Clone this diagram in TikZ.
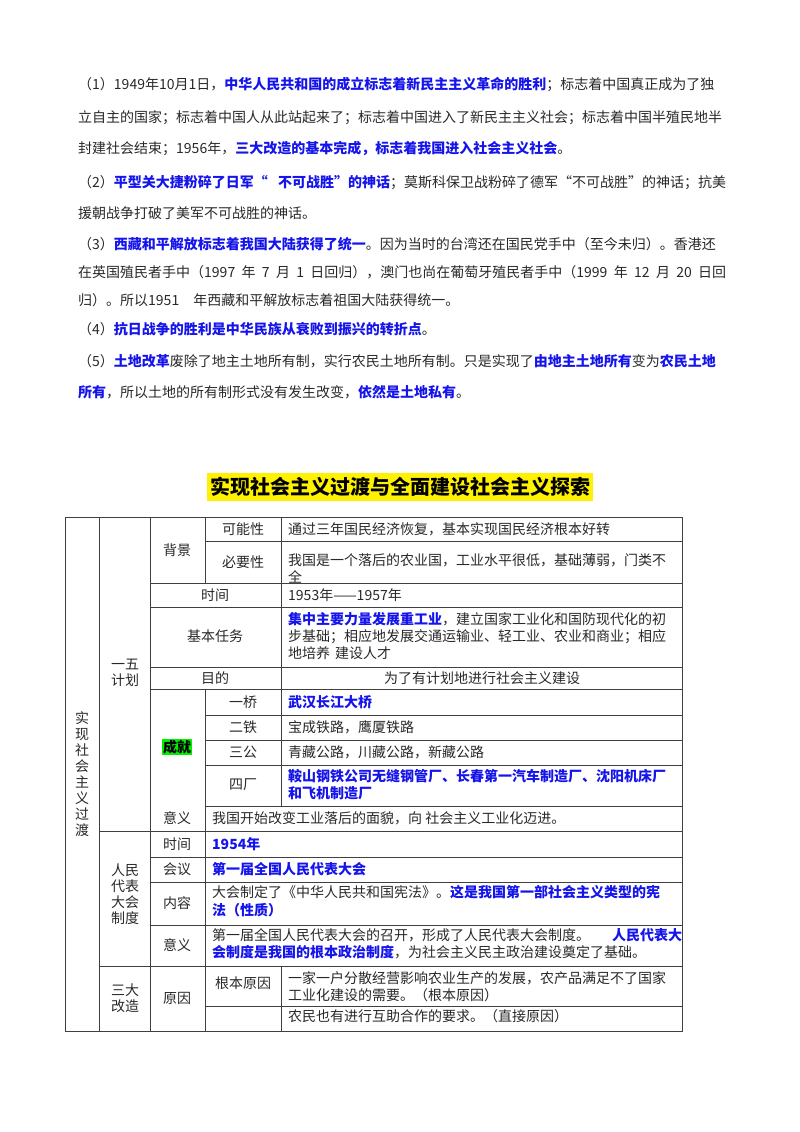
\documentclass[tikz,border=0pt]{standalone}
\usepackage{fontspec}
\setmainfont{Noto Sans CJK SC}
\XeTeXlinebreaklocale "zh"
\XeTeXlinebreakskip=0pt plus 2pt
\definecolor{bl}{RGB}{20,20,235}
\definecolor{txt}{RGB}{40,40,40}
\definecolor{hl}{RGB}{0,240,0}
\newcommand\bl[1]{{\bfseries\color{bl}#1}}
\newcommand\fl[1]{\makebox[648pt][s]{#1}}
\newcommand\fc[1]{\makebox[394pt][s]{#1}}
\newcommand\fd[1]{\makebox[470pt][s]{#1}}
\begin{document}
\begin{tikzpicture}[x=1pt,y=-1pt,
  t/.style={anchor=base west,inner sep=0,font=\fontsize{14}{16}\selectfont,text=txt},
  c/.style={anchor=center,inner sep=0,font=\fontsize{14}{16}\selectfont,text=txt,align=center},
  grid/.style={draw=black!75,line width=0.8pt}]
\useasboundingbox (0,0) rectangle (800,1132);
% paragraphs
\node[t] (p1) at (78,89) {\fl{（1）1949年10月1日，\bl{中华人民共和国的成立标志着新民主主义革命的胜利}；标志着中国真正成为了独}};
\node[t] (p2) at (78,122) {\fl{立自主的国家；标志着中国人从此站起来了；标志着中国进入了新民主主义社会；标志着中国半殖民地半}};
\node[t] (p3) at (78,153) {封建社会结束；1956年，\bl{三大改造的基本完成，标志着我国进入社会主义社会}。};
\node[t] (p4) at (78,187) {\fl{（2）\bl{平型关大捷粉碎了日军“ 不可战胜”的神话}；莫斯科保卫战粉碎了德军“不可战胜”的神话；抗美}};
\node[t] (p5) at (78,218) {援朝战争打破了美军不可战胜的神话。};
\node[t] (p6) at (78,249) {\fl{（3）\bl{西藏和平解放标志着我国大陆获得了统一}。因为当时的台湾还在国民党手中（至今未归）。香港还}};
\node[t] (p7) at (78,277) {\fl{在英国殖民者手中（1997 年 7 月 1 日回归），澳门也尚在葡萄牙殖民者手中（1999 年 12 月 20 日回}};
\node[t] (p8) at (78,305) {归）。所以1951\hspace{14pt}年西藏和平解放标志着祖国大陆获得统一。};
\node[t] (p9) at (78,334) {（4）\bl{抗日战争的胜利是中华民族从衰败到振兴的转折点}。};
\node[t] (p10) at (78,366) {\fl{（5）\bl{土地改革}废除了地主土地所有制，实行农民土地所有制。只是实现了\bl{由地主土地所有}变为\bl{农民土地}}};
\node[t] (p11) at (78,397) {\bl{所有}，所以土地的所有制形式没有发生改变，\bl{依然是土地私有}。};
% title
\node[anchor=center,fill=yellow,inner xsep=3pt,inner ysep=4pt,font=\fontsize{20}{22}\selectfont\bfseries] (title) at (400,487) {实现社会主义过渡与全面建设社会主义探索};
% table grid
\draw[grid] (65,517) rectangle (682,1031);
\draw[grid] (99,517) -- (99,1031);
\draw[grid] (150,517) -- (150,1031);
\draw[grid] (281,517) -- (281,689);
\draw[grid] (205,517) -- (205,583);
\draw[grid] (205,689) -- (205,831);
\draw[grid] (281,689) -- (281,806);
\draw[grid] (205,831) -- (205,1031);
\draw[grid] (281,966) -- (281,1031);
\draw[grid] (205,541) -- (682,541);
\foreach \yy in {583,607,667,689,831} \draw[grid] (150,\yy) -- (682,\yy);
\foreach \yy in {715,740,765,806} \draw[grid] (205,\yy) -- (682,\yy);
\draw[grid] (99,831) -- (682,831);
\foreach \yy in {857,882,925} \draw[grid] (150,\yy) -- (682,\yy);
\draw[grid] (99,966) -- (682,966);
\draw[grid] (205,1006) -- (682,1006);
% left labels
\node[c] (l1) at (82,774) {实\\现\\社\\会\\主\\义\\过\\渡};
\node[c] (l2) at (125,673) {一五\\计划};
\node[c] (l3) at (125,894) {人民\\代表\\大会\\制度};
\node[c] (l4) at (125,998) {三大\\改造};
% 一五计划
\node[c] (bj) at (177,550) {背景};
\node[c] (knx) at (243,529) {可能性};
\node[c] (byx) at (243,562) {必要性};
\node[t] at (288,534) {通过三年国民经济恢复，基本实现国民经济根本好转};
\node[t] at (288,565) {\fc{我国是一个落后的农业国，工业水平很低，基础薄弱，门类不}};
\node[t] at (288,582) {全};
\node[c] (sj) at (215,595) {时间};
\node[t] at (288,600) {1953年——1957年};
\node[c] (rw) at (215,636) {基本任务};
\node[t] at (288,624) {\fc{\bl{集中主要力量发展重工业}，建立国家工业化和国防现代化的初}};
\node[t] at (288,641) {\fc{步基础；相应地发展交通运输业、轻工业、农业和商业；相应}};
\node[t] at (288,658) {地培养\hspace{5pt}建设人才};
\node[c] (md) at (215,678) {目的};
\node[c] at (482,678) {为了有计划地进行社会主义建设};
\node[c,fill=hl,inner sep=1pt,font=\fontsize{14}{16}\selectfont\bfseries,text=black] (cj) at (177,747) {成就};
\node[c] at (243,702) {一桥};
\node[t] at (288,707) {\bl{武汉长江大桥}};
\node[c] at (243,727) {二铁};
\node[t] at (288,732) {宝成铁路，鹰厦铁路};
\node[c] at (243,752) {三公};
\node[t] at (288,757) {青藏公路，川藏公路，新藏公路};
\node[c] at (243,785) {四厂};
\node[t] at (288,781) {\fc{\bl{鞍山钢铁公司无缝钢管厂、长春第一汽车制造厂、沈阳机床厂}}};
\node[t] at (288,798) {\bl{和飞机制造厂}};
\node[c] at (177,818) {意义};
\node[t] at (212,823) {我国开始改变工业落后的面貌，向 社会主义工业化迈进。};
% 人大
\node[c] at (177,844) {时间};
\node[t] at (212,849) {\bl{1954年}};
\node[c] at (177,869) {会议};
\node[t] at (212,874) {\bl{第一届全国人民代表大会}};
\node[c] at (177,903) {内容};
\node[t] at (212,897) {\fd{大会制定了《中华人民共和国宪法》。\bl{这是我国第一部社会主义类型的宪}}};
\node[t] at (212,915) {\bl{法（性质）}};
\node[c] at (177,945) {意义};
\node[t] at (212,940) {\fd{第一届全国人民代表大会的召开，形成了人民代表大会制度。 \bl{人民代表大}}};
\node[t] at (212,957) {\bl{会制度是我国的根本政治制度}，为社会主义民主政治建设奠定了基础。};
% 三大改造
\node[c] at (177,998) {原因};
\node[c] at (243,983) {根本原因};
\node[t] at (288,983) {\fc{一家一户分散经营影响农业生产的发展，农产品满足不了国家}};
\node[t] at (288,1000) {工业化建设的需要。（根本原因）};
\node[t] at (288,1021) {农民也有进行互助合作的要求。（直接原因）};
\end{tikzpicture}
\end{document}
